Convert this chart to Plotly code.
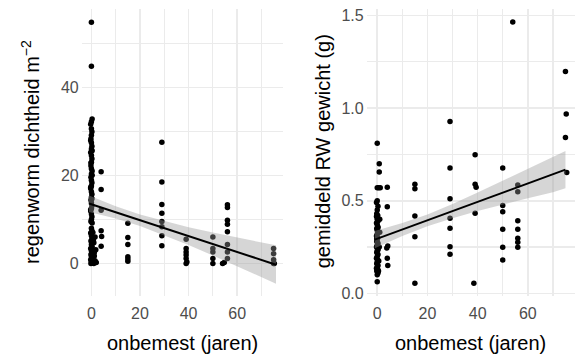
import plotly.graph_objects as go

# ---------------- data: left panel (earthworm density) ----------------
dens_x = [0, 0, 0.3, 0, -0.3, 0, 0.2, 0, -0.2, 0, 0.2, 0, -0.3, 0, 0.2, 0, -0.2, 0, 0.3, 0,
          -0.2, 0, 0.2, 0, -0.3, 0, 0.2, 0, -0.2, 0, 0.2, 0, -0.3, 0, 0.2, 0, -0.2, 0, 0.2, -0.3,
          0, 1.5, 0.2, -0.2, 1.0, 0, 0.3, -0.3, 1.8, 0, 0.2, -0.2, 1.2, 0, 0.3, -0.3, 1.5, 0, 0.2, 1.0,
          -0.2, 2.0, 0.6, 1.2,
          -0.3, 0.3, -0.2, 0.3, -0.3, 0.2, -0.3, 0.3, 0.8, 0.5,
          4, 4, 4, 4, 4.2, 4,
          15, 15, 15, 15, 15, 15,
          29, 29, 29, 29, 29, 29, 29, 29,
          39, 39, 39, 39, 39, 39, 39.3,
          50, 50, 50, 50, 50,
          54, 54.7,
          56, 56, 56, 56, 56, 56, 56, 56,
          75, 75, 75, 75, 75.3]
dens_y = [54.8, 44.8, 32.8, 32.2, 31.6, 30.6, 29.9, 29.1, 28.3, 27.4, 26.6, 26.0, 25.2, 24.5, 23.8, 23.0, 22.2, 21.5, 21.0, 20.3,
          19.6, 18.9, 18.3, 17.6, 17.0, 16.3, 15.7, 15.0, 14.4, 13.8, 13.1, 12.5, 11.9, 11.2, 10.6, 10.0, 9.5, 8.0, 7.4, 6.9,
          6.3, 6.0, 5.6, 5.1, 4.7, 4.3, 3.8, 3.4, 3.1, 2.9, 2.4, 2.0, 1.7, 1.5, 1.1, 0.8, 0.6, 0.4, 0.1, 0.0,
          0.0, 0.2, 7.0, 2.5,
          27.9, 25.6, 22.8, 20.0, 17.3, 14.7, 12.2, 9.2, 5.3, 1.3,
          20.8, 16.8, 12.1, 7.4, 6.1, 3.9,
          9.1, 5.9, 4.3, 1.5, 1.0, 0.5,
          27.5, 18.5, 13.4, 11.4, 9.5, 8.3, 6.3, 4.0,
          5.5, 3.4, 2.6, 1.9, 1.1, 0.0, 0.3,
          6.0, 3.4, 2.6, 1.1, 0.0,
          0.0, 0.2,
          13.3, 12.7, 9.8, 8.9, 7.2, 4.3, 2.6, 1.1,
          3.4, 2.2, 0.8, 0.0, 0.0]

# fitted line and confidence band
dens_fit_x = [-1, 10, 20, 30, 40, 50, 60, 70, 76]
dens_fit_y = [13.6, 11.6, 9.8, 8.0, 6.2, 4.4, 2.6, 0.8, -0.3]
dens_lo = [11.7, 10.2, 8.5, 6.4, 4.2, 1.8, -0.7, -3.1, -4.6]
dens_hi = [15.4, 13.0, 11.1, 9.6, 8.2, 7.0, 5.9, 4.7, 4.1]

# ---------------- data: right panel (mean earthworm weight) ----------------
wt_x = [0, 0.8, 0.8, 0, 0.6, 1.2, 0, -0.3, 0.3, 0, -0.2, 0.2, 0, 0.3, -0.3, 0, 0.2, -0.2, 0, 0.3,
        0, -0.3, 0.2, 0, -0.2, 0.3, 0, -0.3, 0.2, 0, -0.2, 0.3, 0, -0.3, 0.2, 0, -0.2, 0.3, 0, 0.2,
        -0.2, 0.3, 0, 0.5, 0, 1.0, 0.8, 1.0,
        -0.3, 0.3, -0.2, 0.3, 0.6, -0.3,
        4, 4, 4.2, 3.8, 4, 4.2,
        15, 15, 15, 15, 15,
        29, 29, 29, 29, 29, 29, 29,
        39, 39, 39.4, 39, 38.5,
        50, 50, 50, 50, 50, 50,
        54,
        56, 56, 56, 56, 56, 56, 56,
        75, 75.3, 75, 75.5]
wt_y = [0.81, 0.70, 0.655, 0.57, 0.57, 0.57, 0.50, 0.49, 0.47, 0.45, 0.43, 0.42, 0.40, 0.39, 0.38, 0.37, 0.36, 0.35, 0.34, 0.33,
        0.32, 0.31, 0.30, 0.29, 0.28, 0.27, 0.26, 0.25, 0.24, 0.23, 0.22, 0.21, 0.20, 0.19, 0.18, 0.17, 0.16, 0.15, 0.14, 0.13,
        0.12, 0.11, 0.10, 0.12, 0.063, 0.33, 0.25, 0.40,
        0.415, 0.355, 0.295, 0.235, 0.175, 0.135,
        0.573, 0.468, 0.255, 0.245, 0.19, 0.15,
        0.589, 0.564, 0.418, 0.306, 0.054,
        0.928, 0.676, 0.511, 0.405, 0.351, 0.252, 0.211,
        0.748, 0.589, 0.573, 0.432, 0.054,
        0.676, 0.474, 0.441, 0.346, 0.249, 0.18,
        1.465,
        0.585, 0.549, 0.392, 0.346, 0.297, 0.276, 0.249,
        1.198, 0.968, 0.841, 0.652]

wt_fit_x = [-1, 10, 20, 30, 40, 50, 60, 70, 75]
wt_fit_y = [0.290, 0.345, 0.394, 0.444, 0.494, 0.544, 0.593, 0.643, 0.668]
wt_lo = [0.244, 0.310, 0.362, 0.406, 0.444, 0.479, 0.513, 0.546, 0.568]
wt_hi = [0.336, 0.380, 0.426, 0.482, 0.544, 0.609, 0.673, 0.740, 0.768]

x_ticks = [0, 20, 40, 60]
dens_ticks = [0, 20, 40]
wt_ticks = [0.0, 0.5, 1.0, 1.5]

x_title = "onbemest (jaren)"
dens_title = "regenworm dichtheid m<sup>\u22122</sup>"
wt_title = "gemiddeld RW gewicht (g)"

# ---------------- figure ----------------
W, H = 578, 356
FONT = "Liberation Sans, Arial, sans-serif"
GRID = "#EBEBEB"
TICKC = "#4D4D4D"
RIB = "rgba(153,153,153,0.4)"

fig = go.Figure()


def add_panel(xs, ys, fx, fy, lo, hi, xa, ya):
    fig.add_trace(go.Scatter(x=xs, y=ys, mode="markers", xaxis=xa, yaxis=ya,
                             marker=dict(color="black", size=5.5), hoverinfo="skip"))
    fig.add_trace(go.Scatter(x=fx + fx[::-1], y=hi + lo[::-1], mode="lines", fill="toself",
                             fillcolor=RIB, line=dict(width=0), xaxis=xa, yaxis=ya,
                             hoverinfo="skip"))
    fig.add_trace(go.Scatter(x=fx, y=fy, mode="lines", line=dict(color="black", width=2),
                             xaxis=xa, yaxis=ya, hoverinfo="skip"))


add_panel(dens_x, dens_y, dens_fit_x, dens_fit_y, dens_lo, dens_hi, "x", "y")
add_panel(wt_x, wt_y, wt_fit_x, wt_fit_y, wt_lo, wt_hi, "x2", "y2")

ydom = [1 - 296.4 / H, 1 - 9 / H]
axis_common = dict(showline=False, zeroline=False, ticks="", showgrid=True,
                   gridcolor=GRID, gridwidth=1.6, automargin=False,
                   tickfont=dict(family=FONT, size=16, color=TICKC))

fig.update_layout(
    width=W, height=H,
    margin=dict(l=0, r=0, t=0, b=0, autoexpand=False),
    paper_bgcolor="white", plot_bgcolor="white",
    showlegend=False,
    xaxis=dict(domain=[81.7 / W, 283.3 / W], range=[-4.0, 79.0], anchor="y",
               tickvals=x_ticks, ticklabelstandoff=6,
               minor=dict(dtick=10, tick0=0, showgrid=True, gridcolor=GRID, gridwidth=1.2),
               **axis_common),
    yaxis=dict(domain=ydom, range=[-7.5, 57.8], anchor="x",
               tickvals=dens_ticks, ticklabelstandoff=2,
               minor=dict(dtick=10, tick0=0, showgrid=True, gridcolor=GRID, gridwidth=1.2),
               **axis_common),
    xaxis2=dict(domain=[366.7 / W, 575 / W], range=[-4.2, 78.8], anchor="y2",
                tickvals=x_ticks, ticklabelstandoff=6,
                minor=dict(dtick=10, tick0=0, showgrid=True, gridcolor=GRID, gridwidth=1.2),
                **axis_common),
    yaxis2=dict(domain=ydom, range=[-0.0165, 1.535], anchor="x2",
                tickvals=wt_ticks, ticktext=["0.0", "0.5", "1.0", "1.5"], ticklabelstandoff=2,
                minor=dict(dtick=0.25, tick0=0, showgrid=True, gridcolor=GRID, gridwidth=1.2),
                **axis_common),
)

title_font = dict(family=FONT, size=20, color="black")
ann = [
    dict(text=x_title, x=182.5 / W, y=1 - 342.5 / H),
    dict(text=x_title, x=470.8 / W, y=1 - 342.5 / H),
    dict(text=dens_title, x=31 / W, y=1 - 152 / H, textangle=-90),
    dict(text=wt_title, x=323.3 / W, y=1 - 151 / H, textangle=-90),
]
for a in ann:
    fig.add_annotation(xref="paper", yref="paper", xanchor="center", yanchor="middle",
                       showarrow=False, font=title_font, **a)

fig.write_html("out.html",
               config={"displayModeBar": False, "staticPlot": True},
               post_script="document.body.style.margin='0';document.body.style.padding='0';")
